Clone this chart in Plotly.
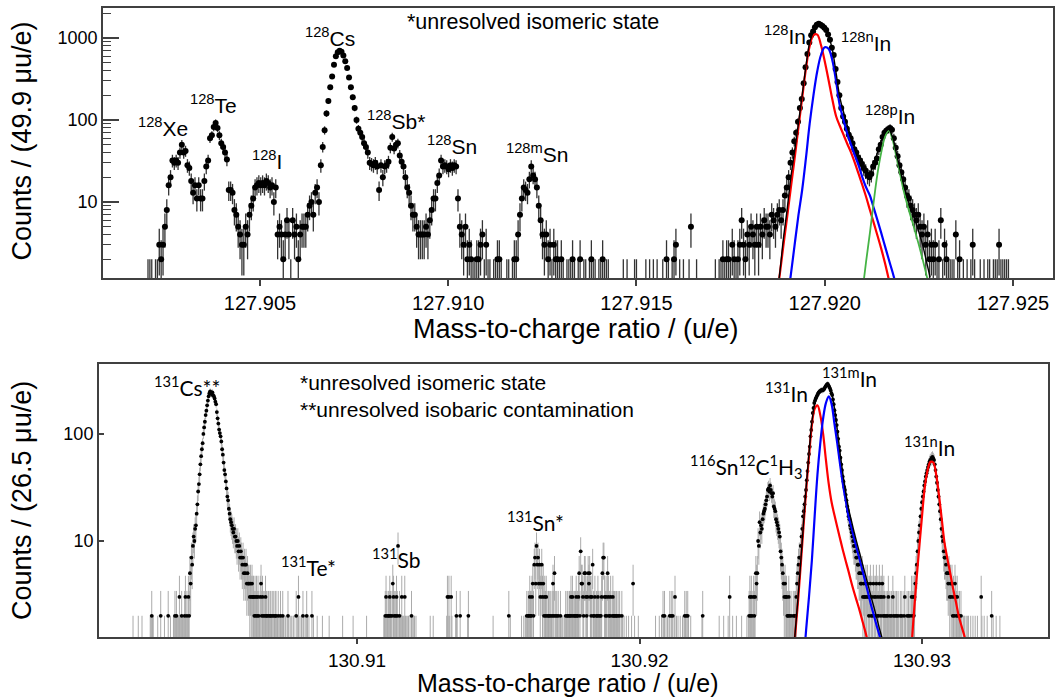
import numpy as np
import plotly.graph_objects as go

# ---------------- A = 128 spectrum (49.9 micro-u bins) ----------------
A128_BIN0 = 127.9020252      # centre of the first bin, u/e
A128_BINW = 49.9e-6

# counts per bin, grouped by region; the integer is the index of the first bin
a128_light = [1, 1, 1, 0, 1, 1, 3, 2, 3, 5,
              8, 16, 20, 32, 30, 32, 30, 40, 50, 40,
              42, 28, 26, 18, 13, 16, 11, 16, 11, 11,
              18, 27, 32, 60, 65, 82, 92, 80, 65, 52,
              47, 40, 33, 14, 14, 13, 8, 7, 5, 4,
              3, 3, 5, 4, 7, 9, 11, 15, 16, 17,
              16, 17, 16, 18, 17, 15, 16, 10, 15, 4,
              5, 4, 2, 4, 6, 4, 1, 6, 4, 5,
              2, 4, 5, 5, 5, 7, 9, 10, 7, 13,
              15, 10]
a128_cs_sb_sn = [28, 47, 75, 120, 170, 250, 340, 470, 600, 670,
                 700, 680, 610, 520, 430, 330, 250, 190, 140, 100,
                 78, 70, 62, 52, 47, 40, 30, 29, 28, 30,
                 27, 14, 28, 20, 27, 28, 31, 46, 62, 45,
                 50, 52, 37, 31, 27, 20, 15, 13, 9, 7,
                 7, 5, 4, 4, 4, 4, 5, 4, 6, 8,
                 11, 11, 17, 21, 32, 27, 28, 27, 25, 28,
                 26, 28, 27, 11, 5, 4, 3, 5, 2]
a128_msn_bg = [3, 2, 1, 1, 2, 2, 3, 4, 1, 3,
               1, 1, 0, 1, 1, 2, 2, 1, 0, 0,
               1, 1, 0, 1, 2, 2, 4, 7, 11, 15,
               14, 13, 19, 27, 21, 19, 15, 9, 6, 4,
               3, 4, 2, 3, 1, 3, 2, 2, 1, 2,
               1, 0, 1, 1, 1, 2, 1, 0, 1, 2,
               0, 1, 1, 0, 1, 2, 1, 1, 0, 1,
               1, 2, 1, 1, 1, 0, 0, 0, 0, 0,
               0, 0, 1, 0, 1, 0, 0, 0, 1, 1,
               0, 0, 0, 0, 1, 0, 1, 0, 1, 0,
               1, 0, 0, 1, 0, 2, 1, 0, 1, 2,
               3, 0, 1, 0, 1, 0, 0, 1, 5, 0,
               0, 1, 0, 0, 0, 0, 0, 0, 0, 0,
               0, 1, 0, 1, 1, 2, 1, 2, 2, 1,
               3, 2, 1, 2, 3, 6, 3, 2, 4, 3,
               5, 4, 3, 5, 3, 5, 4, 6, 5, 5,
               4, 7, 6, 5, 7, 8, 6, 8]
a128_indium = [12, 15, 20, 30, 40, 55, 70, 95, 140, 180,
               280, 440, 640, 880, 1080, 1200, 1350, 1450, 1490, 1450,
               1400, 1330, 1250, 1100, 950, 760, 620, 420, 290, 200,
               140, 110, 95, 78, 66, 60, 52, 44, 40, 35,
               32, 29, 26, 24, 21, 20, 22, 27, 30, 34,
               44, 50, 62, 70, 74, 77, 80, 76, 60, 46,
               36, 28, 23, 19, 15, 12, 11, 9, 8, 7,
               6, 7, 5, 4, 5, 3, 4, 2, 3, 2,
               3, 1, 2, 6, 1, 3, 2, 1, 1, 1,
               1, 4, 1, 2, 0, 1, 0, 1, 0, 1,
               3, 1, 0, 0, 1, 0, 1, 0, 1, 1,
               0, 1, 1, 1, 3, 1, 1, 1, 1, 1]
a128_segments = [(0, a128_light), (92, a128_cs_sb_sn),
                 (171, a128_msn_bg), (339, a128_indium)]
A128_NBINS = 459

# fitted line shapes for the indium group, sampled every 0.1 mu
FIT128_START = 127.9187
FIT128_STEP = 1e-4
fit128_total = [0.6, 1.3, 3.5, 8, 20, 42, 90, 200, 450, 880,
                1200, 1480, 1420, 1290, 1060, 730, 380, 190, 125, 85,
                62, 45, 34, 27, 23, 23, 29, 40, 55, 70,
                77, 62, 40, 25, 16, 11, 8, 6, 4.3, 3,
                1.9, 1.2]
fit128_in = [0.6, 1.25, 2.9, 6.5, 15, 34, 80, 185, 420, 800,
             1080, 1100, 820, 520, 310, 180, 112, 85, 66, 51,
             40, 30, 22, 16, 11.5, 8, 5.6, 3.9, 2.7, 1.8,
             1.15, 0.75, 0.5, 0.33, 0.22, 0.15, 0.1, 0.07, 0.05, 0.03,
             0.02, 0.015]
fit128_nin = [0.05, 0.12, 0.27, 0.6, 1.3, 3.0, 6.8, 14, 34, 90,
              200, 390, 620, 770, 740, 540, 300, 150, 100, 68,
              50, 37, 28, 20, 15, 12, 8.5, 6, 4.2, 2.9,
              2.0, 1.4, 0.95, 0.65, 0.42, 0.27, 0.18, 0.12, 0.08, 0.05,
              0.035, 0.025]
fit128_pin = [0, 0, 0, 0, 0, 0, 0, 0, 0, 0,
              0, 0, 0, 0, 0, 0, 0, 0, 0, 0,
              0, 0, 0.3, 0.8, 1.9, 4.2, 10, 22, 40, 62,
              74, 58, 36, 22, 13.5, 9, 6.3, 4.4, 3.0, 2.0,
              1.3, 0.85]

# ---------------- A = 131 spectrum (26.5 micro-u bins) ----------------
A131_BIN0 = 130.9020708
A131_BINW = 26.5e-6

b131_pre_cs = [1, 0, 0, 0, 0, 0, 0, 1, 0, 0,
               0, 0, 1, 0, 0, 0, 0, 0, 0, 0,
               0, 0, 0, 1, 1, 2, 1, 1, 0, 0,
               0, 0, 0, 1, 0, 0, 0, 2, 0, 0,
               0, 0, 1, 0, 0, 0, 0, 2, 0, 0,
               1, 0, 0, 0, 1, 1, 2, 1, 2, 1,
               1, 1, 3, 1, 1, 2, 1, 1, 1, 2,
               3, 1, 2, 1]
b131_cs = [3, 2, 5, 4, 7, 6, 9, 11, 10, 13,
           14, 18, 22, 29, 34, 42, 52, 62, 72, 82,
           100, 115, 130, 150, 165, 185, 205, 225, 240, 250,
           245, 235, 245, 230, 225, 215, 200, 190, 160, 140,
           125, 110, 102, 95, 85, 72, 64, 54, 46, 42,
           36, 31, 26, 24, 20, 18, 16, 15, 14, 13,
           12, 13, 11, 11, 10, 9, 10, 8, 9, 7,
           8, 7, 6, 7, 5, 6, 5, 6, 4, 5,
           4, 4, 3, 4, 3, 4, 3, 3, 2, 3,
           2, 3, 2, 3, 2, 1, 3, 4, 2, 3,
           2, 1, 2, 3, 2, 2, 1]
b131_te = [2, 1, 2, 2, 1, 2, 0, 2, 1, 2, 2, 1, 1, 2, 0, 1, 2, 1, 1, 2,
           1, 0, 1, 1, 0, 1, 2, 1, 0, 1,
           0, 1, 0, 1, 1, 0, 0, 2, 0, 1,
           3, 0, 1, 0, 1, 0, 2, 1, 0, 1,
           0, 2, 1, 0, 1, 0, 0, 0, 2, 0,
           1, 0, 0, 0, 0, 1, 0, 0, 0, 0,
           0, 0, 1, 0, 0, 0, 0, 0, 0, 0,
           0, 1, 0, 0, 0, 0, 0, 0, 0, 0,
           0, 0, 0, 0, 0, 0, 0, 0, 0, 1,
           0, 0, 0, 0, 0, 0, 0, 0, 0, 0, 0, 0, 0, 1, 0, 0, 0, 0, 0, 0,
           0, 0, 0, 0, 0, 0, 0, 0, 0, 0, 0, 1, 0, 0, 0, 0, 0, 0, 0, 0,
           0, 0, 0, 0, 0, 0, 0, 0, 0, 0, 0, 0, 0, 0]
b131_sb = [1, 1, 2, 3, 2, 1, 2, 2, 3, 2,
           1, 2, 4, 3, 2, 1, 2, 3, 2, 9,
           1, 2, 1, 1, 3, 1, 1, 1, 3, 1,
           1, 0, 1, 1, 0, 1, 0, 2, 1, 0,
           1, 1, 0, 1]
b131_mid = [0, 0, 0, 0, 0, 0, 0, 0, 0, 0, 0, 0,
            0, 0, 0, 0, 0, 0, 1, 0, 0, 0,
            1, 0, 0, 0, 0, 0, 0, 0, 0, 0,
            0, 0, 0, 0, 0, 0, 0, 0, 1, 3,
            1, 3, 1, 0, 3, 1, 0, 0, 0, 0,
            1, 2, 1, 0, 0, 0, 2, 0, 0, 0,
            0, 0, 0, 0, 0, 0, 1, 2, 0, 0,
            0, 0, 0, 0, 0, 0, 0, 0, 0, 0,
            0, 0, 0, 0, 0, 0, 0, 0, 0, 0,
            0, 0, 0, 0, 0, 0, 0, 0, 0, 0,
            1, 0, 0, 0, 0, 0, 0, 0, 0, 0,
            0, 0, 0, 0, 0, 0, 0, 0, 0, 0]
b131_sn = [0, 2, 0, 1, 0, 0, 0, 0, 0, 0,
           0, 0, 0, 0, 0, 0, 0, 0, 1, 0,
           0, 1, 0, 1, 1, 2, 1, 2, 2, 3,
           2, 2, 3, 4, 2, 6, 7, 4, 9, 6,
           7, 4, 6, 3, 4, 6, 3, 4, 2, 3,
           2, 3, 2, 1, 2, 2, 1, 2, 1, 2,
           4, 2, 5, 2, 1, 2, 1, 2, 0, 1,
           2, 1, 0, 1, 0, 1, 1, 2, 1, 2,
           2, 1, 2, 2, 3, 2, 3, 2, 1, 2,
           2, 3, 2, 2, 3, 5, 2, 8, 4, 4,
           3, 2, 5, 5, 3, 2, 3, 5, 4, 5,
           3, 2, 3, 6, 2, 2, 3, 1, 2, 2,
           3, 2, 1, 2, 2, 3, 5, 7, 7, 3,
           2, 3, 2, 5, 3, 2, 2, 3, 1, 2,
           3, 2, 2, 1, 2, 2, 1, 2, 1, 2,
           0, 1, 2, 1, 0, 1, 0, 0, 1, 0,
           0, 1, 0, 0, 0, 1, 0, 4, 0, 1,
           0, 0, 0, 0, 1, 0, 0, 0, 0, 0]
b131_gap = [0, 0, 0, 0, 0, 0, 0, 0, 0, 0,
            0, 0, 0, 0, 0, 0, 0, 1, 0, 0,
            0, 0, 1, 0, 0, 1, 0, 2, 1, 2,
            0, 1, 0, 1, 0, 1, 2, 0, 2, 1,
            2, 0, 1, 3, 0, 1, 0, 1, 0, 0,
            1, 0, 0, 1, 0, 1, 2, 1, 2, 0,
            2, 1, 0, 0, 1, 0, 0, 0, 0, 0,
            0, 0, 0, 0, 0, 0, 0, 0, 0, 1,
            2, 0, 0, 0, 0, 0, 0, 0, 0, 0,
            0, 0, 0, 0, 0, 0, 0, 0, 0, 0,
            0, 0, 1, 0, 0, 0, 0, 0, 1, 0,
            0, 0, 0, 0, 1, 0, 3, 0, 0, 0,
            1, 0, 0, 0, 0, 1, 0, 0, 0, 0,
            0, 0, 1, 0, 0, 0, 0, 0, 0, 1,
            0, 1]
b131_snch3 = [2, 3, 2, 3, 2, 1, 3, 2, 3, 5,
              4, 5, 10, 9, 15, 12, 14, 13, 16, 18,
              19, 20, 22, 24, 26, 30, 31, 29, 33, 30,
              28, 26, 28, 21, 20, 19, 16, 15, 14, 13,
              12, 11, 8, 7, 6, 5, 4, 3, 4, 3,
              3, 2, 2, 3, 2, 1, 2, 1]
b131_in = [1, 2, 1, 2, 2, 3, 4, 5, 6, 7,
           7, 9, 11, 13, 17, 19, 22, 26, 30, 37,
           45, 54, 65, 76, 95, 109, 130, 157, 175, 195,
           205, 215, 222, 230, 238, 245, 248, 252, 255, 258,
           256, 258, 262, 270, 278, 284, 290, 294, 285, 275,
           267, 255, 240, 231, 210, 190, 167, 150, 135, 121,
           105, 90, 76, 70, 60, 52, 46, 40, 36, 32,
           30, 27, 24, 21, 19, 17, 16, 14, 13, 12,
           11, 10, 9, 9, 8, 7, 7, 6, 6, 5,
           5, 4, 4, 5, 3, 4, 3, 3, 4, 3,
           4, 3, 2, 3, 4, 2, 3, 2, 4, 3,
           2, 3, 4, 2, 3, 2, 4, 3, 2, 3,
           4, 2, 3, 2, 1, 2, 1, 2, 3, 1]
b131_between = [2, 1, 2, 1, 3, 2, 1, 2, 0, 2,
                1, 2, 1, 0, 2, 1, 2, 1, 0, 2,
                3, 1, 0, 2, 1]
b131_nin = [2, 1, 2, 1, 3, 2, 3, 2, 3, 4,
            5, 6, 8, 10, 12, 14, 17, 20, 23, 26,
            29, 33, 36, 40, 43, 46, 49, 52, 55, 57,
            58, 60, 61, 59, 57, 52, 46, 40, 35, 30,
            26, 22, 19, 16, 13, 11, 10, 8, 7, 7,
            6, 5, 5, 4, 5, 3, 4, 3, 4, 2,
            3, 2, 4, 3, 2, 3, 2, 1, 2, 1,
            2, 1, 0, 1, 1]
b131_tail = [1, 0, 1, 0, 1, 1, 0, 0, 1, 0,
             0, 1, 0, 0, 1, 0, 0, 1, 0, 0,
             0, 0, 3, 1, 0, 0, 1, 0, 0, 0,
             1, 0, 0, 0, 0, 0, 2, 0, 1, 0,
             0, 0, 1, 0, 0, 0, 0, 1]
b131_segments = [(0, b131_pre_cs), (74, b131_cs), (181, b131_te), (335, b131_sb),
                 (379, b131_mid), (501, b131_sn), (681, b131_gap), (823, b131_snch3),
                 (881, b131_in), (1011, b131_between), (1036, b131_nin), (1111, b131_tail)]
A131_NBINS = 1159

# fitted line shapes, sampled every 0.1 mu
FIT131_START = 130.9254
FIT131_STEP = 1e-4
fit131_total = [0.6, 1.3, 2.7, 6, 14, 32, 66, 128, 190, 228,
                245, 255, 278, 285, 240, 175, 110, 66, 42, 28,
                20, 15.5, 12, 9.5, 7.6, 6.0, 4.8, 3.8, 3.0, 2.4,
                1.9, 1.5, 1.2, 0.95]
fit131_in = [0.6, 1.25, 2.5, 5.6, 13, 30, 62, 120, 172, 185,
             150, 100, 57, 34, 23, 17.5, 13.5, 10.5, 8.2, 6.5,
             5.2, 4.1, 3.3, 2.7, 2.2, 1.75, 1.4, 1.1, 0.85, 0.65,
             0.5, 0.4, 0.3, 0.22]
fit131_min = [0.02, 0.05, 0.12, 0.3, 0.7, 1.5, 3.0, 6.5, 17, 42,
              82, 140, 195, 225, 190, 125, 82, 52, 34, 24,
              17, 13.5, 10.5, 8.3, 6.6, 5.2, 4.1, 3.2, 2.5, 2.0,
              1.6, 1.3, 1.02, 0.8]
FIT131N_START = 130.9295
fit131_nin = [0.3, 0.8, 1.9, 4.2, 8.5, 17, 32, 46, 55, 54,
              42, 27, 16, 9.5, 6.8, 5.0, 3.6, 2.7, 2.0, 1.6,
              1.3, 1.0, 0.8]


def assemble(segments, nbins):
    counts = np.zeros(nbins)
    for start, vals in segments:
        counts[start:start + len(vals)] = vals
    return counts


def filled_bins(counts, bin0, binw):
    idx = np.nonzero(counts)[0]
    n = counts[idx]
    return bin0 + idx * binw, n, np.sqrt(n)


def grid(start, step, values):
    vals = np.asarray(values, dtype=float)
    x = start + np.arange(len(vals)) * step
    keep = vals > 0
    return x[keep], vals[keep]


AX_COL = "#404040"
SANS = "Liberation Sans, Arial, sans-serif"
LABEL_FONT = "Lato, Carlito, sans-serif"

fig = go.Figure()

# ---- upper panel: A = 128 ----
m, n, e = filled_bins(assemble(a128_segments, A128_NBINS), A128_BIN0, A128_BINW)
fig.add_trace(go.Scatter(
    x=m, y=n, mode="markers", xaxis="x", yaxis="y",
    marker=dict(size=6, color="black"),
    error_y=dict(type="data", symmetric=False, array=e, arrayminus=e,
                 color="#333333", thickness=1.3, width=0),
    showlegend=False))
for vals, col, w in [(fit128_in, "#ff0000", 2.2), (fit128_nin, "#0000ff", 2.2),
                     (fit128_pin, "#45b445", 1.8), (fit128_total, "#000000", 1.4)]:
    gx, gy = grid(FIT128_START, FIT128_STEP, vals)
    fig.add_trace(go.Scatter(x=gx, y=gy, mode="lines", xaxis="x", yaxis="y",
                             line=dict(color=col, width=w, shape="spline"),
                             showlegend=False))

# ---- lower panel: A = 131 ----
m, n, e = filled_bins(assemble(b131_segments, A131_NBINS), A131_BIN0, A131_BINW)
fig.add_trace(go.Scatter(
    x=m, y=n, mode="markers", xaxis="x2", yaxis="y2",
    marker=dict(size=3.8, color="black"),
    error_y=dict(type="data", symmetric=False, array=e, arrayminus=e,
                 color="#ababab", thickness=1, width=0),
    showlegend=False))
for start, vals, col, w in [(FIT131_START, fit131_in, "#ff0000", 2.2),
                            (FIT131_START, fit131_min, "#0000ff", 2.2),
                            (FIT131_START, fit131_total, "#000000", 1.4),
                            (FIT131N_START, fit131_nin, "#ff0000", 2.2)]:
    gx, gy = grid(start, FIT131_STEP, vals)
    fig.add_trace(go.Scatter(x=gx, y=gy, mode="lines", xaxis="x2", yaxis="y2",
                             line=dict(color=col, width=w, shape="spline"),
                             showlegend=False))

frame = dict(showline=True, mirror=True, linecolor=AX_COL, linewidth=2,
             showgrid=False, zeroline=False, tickcolor=AX_COL)

minor128 = [2, 3, 4, 5, 6, 7, 8, 9, 20, 30, 40, 50, 60, 70, 80, 90,
            200, 300, 400, 500, 600, 700, 800, 900, 2000]

fig.update_layout(
    width=1059, height=699, margin=dict(l=0, r=0, t=0, b=0),
    paper_bgcolor="white", plot_bgcolor="white",
    font=dict(family=SANS, color="black"),
    xaxis=dict(domain=[0.0973, 0.9943], range=[127.900831, 127.926062], anchor="y",
               tickmode="array",
               tickvals=[127.905, 127.910, 127.915, 127.920, 127.925],
               ticktext=["127.905", "127.910", "127.915", "127.920", "127.925"],
               ticks="outside", ticklen=6, tickwidth=1.5,
               tickfont=dict(size=20, family=SANS), **frame),
    yaxis=dict(domain=[0.6023, 0.9886], type="log", range=[0.0732, 3.366], anchor="x",
               tickmode="array", tickvals=[10, 100, 1000], ticktext=["10", "100", "1000"],
               ticks="inside", ticklen=16, tickwidth=1.5,
               minor=dict(ticks="inside", ticklen=8, tickwidth=1.2, tickcolor=AX_COL,
                          tickmode="array", tickvals=minor128),
               tickfont=dict(size=18, family=SANS), **frame),
    xaxis2=dict(domain=[0.0935, 0.9896], range=[130.900867, 130.93446], anchor="y2",
                tickmode="array", tickvals=[130.91, 130.92, 130.93],
                ticktext=["130.91", "130.92", "130.93"],
                ticks="outside", ticklen=5, tickwidth=1.5,
                tickfont=dict(size=19, family=SANS), **frame),
    yaxis2=dict(domain=[0.0887, 0.4793], type="log", range=[0.1028, 2.654], anchor="x2",
                tickmode="array", tickvals=[10, 100], ticktext=["10", "100"],
                ticks="inside", ticklen=5, tickwidth=1.5,
                tickfont=dict(size=18, family=SANS), **frame),
)

ann = []


def label(text, x, logy, xref, yref, size, family, xanchor="center", align="center"):
    ann.append(dict(text=text, x=x, y=logy, xref=xref, yref=yref, showarrow=False,
                    font=dict(size=size, family=family, color="black"),
                    xanchor=xanchor, yanchor="middle", align=align))


# upper panel peak labels (y given as log10 of counts)
for txt, x, ly in [("<sup>128</sup>Xe", 127.902424, 1.915),
                   ("<sup>128</sup>Te", 127.903752, 2.195),
                   ("<sup>128</sup>I", 127.905186, 1.512),
                   ("<sup>128</sup>Cs", 127.906859, 3.012),
                   ("<sup>128</sup>Sb*", 127.908612, 2.000),
                   ("<sup>128</sup>Sn", 127.910100, 1.695),
                   ("<sup>128m</sup>Sn", 127.912357, 1.598),
                   ("<sup>128</sup>In", 127.918944, 3.037),
                   ("<sup>128n</sup>In", 127.921096, 2.951),
                   ("<sup>128p</sup>In", 127.921733, 2.061)]:
    label(txt, x, ly, "x", "y", 21, SANS)
label("*unresolved isomeric state", 127.912251, 3.195, "x", "y", 21.5, SANS)

# lower panel peak labels
for txt, x, ly in [("<sup>131</sup>Cs**", 130.903982, 2.449),
                   ("<sup>131</sup>Te*", 130.908265, 0.766),
                   ("<sup>131</sup>Sb", 130.911381, 0.841),
                   ("<sup>131</sup>Sn*", 130.916336, 1.187),
                   ("<sup>116</sup>Sn<sup>12</sup>C<sup>1</sup>H<sub>3</sub>", 130.923770, 1.692),
                   ("<sup>131</sup>In", 130.925221, 2.393),
                   ("<sup>131m</sup>In", 130.927451, 2.533),
                   ("<sup>131n</sup>In", 130.930283, 1.888)]:
    label(txt, x, ly, "x2", "y2", 21, LABEL_FONT)
label("*unresolved isomeric state<br>**unresolved isobaric contamination",
      130.907912, 2.355, "x2", "y2", 21, SANS, xanchor="left", align="left")


def title(text, x, y, angle=0, size=27):
    ann.append(dict(text=text, x=x, y=y, xref="paper", yref="paper", textangle=angle,
                    xanchor="center", yanchor="middle", showarrow=False,
                    font=dict(size=size, family=SANS, color="black")))


title("Counts / (49.9 μu/e)", 0.0208, 0.7975, -90)
title("Mass-to-charge ratio / (u/e)", 0.5439, 0.5294)
title("Counts / (26.5 μu/e)", 0.0208, 0.2833, -90)
title("Mass-to-charge ratio / (u/e)", 0.5364, 0.0229, size=25)

fig.update_layout(annotations=ann)
fig.write_html("out.html")
